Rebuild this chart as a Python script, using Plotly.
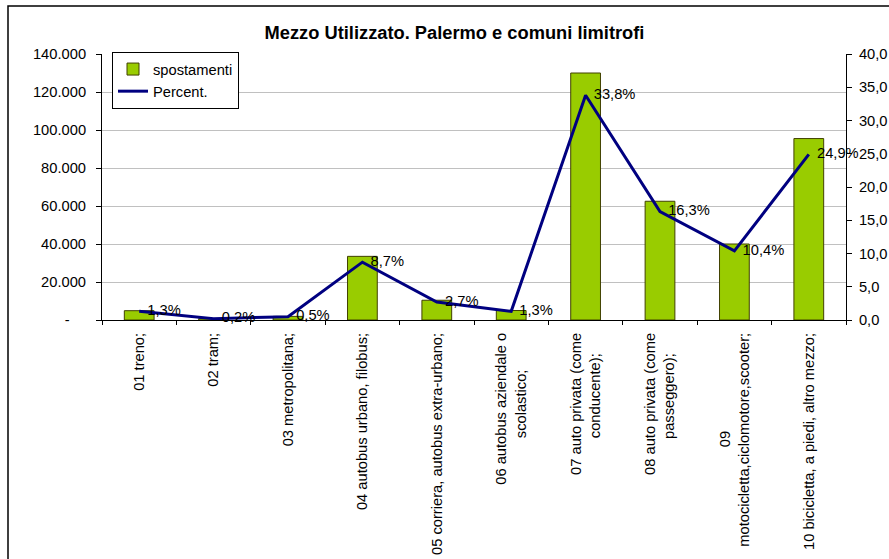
import plotly.graph_objects as go

NB = "\u00a0"
categories = [
    "01 treno;",
    "02 tram;",
    "03 metropolitana;",
    "04 autobus urbano, filobus;",
    "05 corriera, autobus extra-urbano;",
    "06 autobus aziendale o<br>scolastico;" + NB * 9,
    "07 auto privata (come<br>conducente);" + NB * 5,
    "08 auto privata (come<br>passeggero);" + NB * 5,
    "09" + NB * 24 + "<br>motocicletta,ciclomotore,scooter;",
    "10 bicicletta, a piedi, altro mezzo;",
]
spostamenti = [4900, 770, 1900, 33500, 10400, 5000, 130000, 62500, 40000, 95500]
percent = [1.3, 0.2, 0.5, 8.7, 2.7, 1.3, 33.8, 16.3, 10.4, 24.9]

left_tickvals = [0, 20000, 40000, 60000, 80000, 100000, 120000, 140000]
left_ticktext = ["-" + NB * 4, "20.000", "40.000", "60.000", "80.000",
                 "100.000", "120.000", "140.000"]
right_tickvals = [0, 5, 10, 15, 20, 25, 30, 35, 40]
boundary_ticks = [-0.5, 0.5, 1.5, 2.5, 3.5, 4.5, 5.5, 6.5, 7.5, 8.5, 9.5]

percent_text = [NB * 2 + f"{v:.1f}%".replace(".", ",") for v in percent]

W, H = 889, 559
L, R, T, B = 102, 43, 54, 239
pw, ph = W - L - R, H - T - B
FS = 14.7

fig = go.Figure()
fig.add_bar(
    x=categories, y=spostamenti, name="spostamenti", width=0.4,
    marker=dict(color="#99CC00", line=dict(color="#404000", width=1)),
)
fig.add_scatter(
    x=categories, y=percent, name="Percent.", yaxis="y2",
    mode="lines+text", line=dict(color="#000080", width=3),
    text=percent_text, textposition="middle right",
    textfont=dict(size=FS, color="black"), cliponaxis=False,
)

fig.update_layout(
    width=W, height=H, autosize=False,
    margin=dict(l=L, r=R, t=T, b=B, pad=0),
    paper_bgcolor="white", plot_bgcolor="white",
    font=dict(family="Liberation Sans, Arial, sans-serif", size=FS, color="black"),
    separators=",.",
    title=dict(
        text="<b>Mezzo Utilizzato. Palermo e comuni limitrofi</b>",
        x=454.5 / W, xref="container", xanchor="center",
        y=1 - 33 / H, yref="container", yanchor="middle",
        font=dict(size=18.3, color="black"),
    ),
    xaxis=dict(
        type="category", range=[-0.5, 9.5], tickson="boundaries",
        ticks="outside", ticklen=4, tickcolor="black", tickangle=-90,
        showline=True, linecolor="black", linewidth=1, showgrid=False,
        automargin=False, ticklabelstandoff=6,
    ),
    xaxis2=dict(
        overlaying="x", anchor="y", side="bottom", range=[-0.5, 9.5],
        tickmode="array", tickvals=boundary_ticks, ticks="inside", ticklen=4,
        tickcolor="black", showticklabels=False, showgrid=False, showline=False,
        zeroline=False,
    ),
    yaxis=dict(
        range=[0, 140000], tickmode="array", tickvals=left_tickvals,
        ticktext=left_ticktext, ticks="outside", ticklen=5, tickcolor="black",
        showline=True, linecolor="black", linewidth=1,
        showgrid=True, gridcolor="#c0c0c0", gridwidth=1, zeroline=False,
        automargin=False, ticklabelstandoff=7,
    ),
    yaxis2=dict(
        overlaying="y", side="right", anchor="x", range=[0, 40],
        tickmode="array", tickvals=right_tickvals, tickformat=".1f", ticksuffix="%",
        ticks="outside", ticklen=5, tickcolor="black",
        showline=True, linecolor="black", linewidth=1,
        showgrid=False, zeroline=False, automargin=False, ticklabelstandoff=4,
    ),
    yaxis3=dict(
        overlaying="y", side="left", anchor="x", range=[0, 140000],
        tickmode="array", tickvals=left_tickvals, ticks="inside", ticklen=5,
        tickcolor="black", showticklabels=False, showgrid=False,
        showline=False, zeroline=False,
    ),
    yaxis4=dict(
        overlaying="y", side="right", anchor="x", range=[0, 40],
        tickmode="array", tickvals=right_tickvals, ticks="inside", ticklen=5,
        tickcolor="black", showticklabels=False, showgrid=False,
        showline=False, zeroline=False,
    ),
    legend=dict(
        x=10 / pw, y=1 + 2 / ph, xanchor="left", yanchor="top",
        bgcolor="white", bordercolor="black", borderwidth=1,
        font=dict(size=FS, color="black"), itemwidth=30,
        tracegroupgap=0,
    ),
    showlegend=True,
    shapes=[dict(
        type="rect", xref="paper", yref="paper",
        x0=(8 - L) / pw, x1=1.2, y0=-1.2, y1=1 + (T - 6) / ph,
        line=dict(color="black", width=1.5), fillcolor="rgba(0,0,0,0)",
        layer="above",
    )],
)

fig.write_html(
    "out.html",
    config={"displayModeBar": False},
    post_script="document.body.style.margin='0';document.body.style.overflow='hidden';",
)
